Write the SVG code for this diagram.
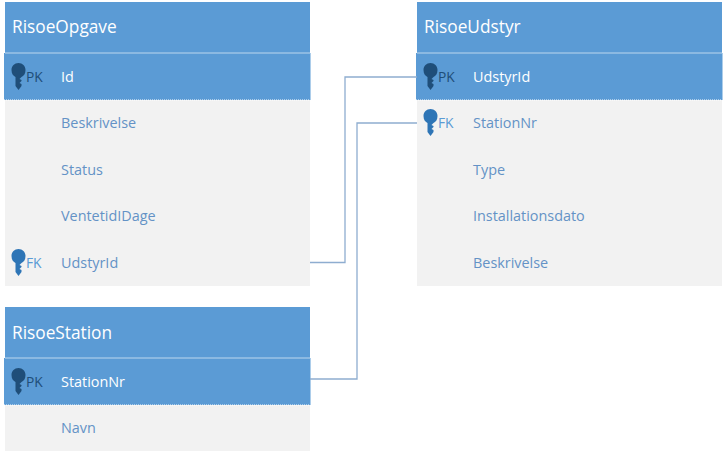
<svg xmlns="http://www.w3.org/2000/svg" width="724" height="453" viewBox="0 0 724 453">
<style>
text{font-family:"Open Sans","Noto Sans","Liberation Sans",sans-serif}
.hd{fill:#5b9bd5}.bd{fill:#f2f2f2}
.t{font-size:17.300px;fill:#fff}
.w{font-size:14.400px;fill:#fff}
.f{font-size:14.400px;fill:#6492c6}
.pk{font-size:13.800px;fill:#1f4e79}
.fk{font-size:13.800px;fill:#5b9bd5}
.sep{stroke:#bdd7ee;stroke-width:1;fill:none}
.dash{stroke:#fff;stroke-width:1;stroke-dasharray:1 1;fill:none}
.c{stroke:#8eadd0;stroke-width:1.300;fill:none}
</style>
<defs>
<g id="key"><path d="M0-14C-4-14-7-11-7-7C-7-3-5-1-3 0V9L0 13L3 9V7L1 6L3 4V3L1 2L3 0C5-1 7-3 7-7C7-11 4-14 0-14Z"/></g>
</defs>
<g id="RisoeOpgave">
<rect class="bd" x="5" y="100" width="305" height="186"/>
<rect class="hd" x="5" y="2" width="305" height="51"/>
<rect class="hd" x="4" y="53" width="306.500" height="47"/>
<path class="sep" d="M5 53H310"/><path class="dash" d="M4 100H310"/>
<text class="t" x="12" y="33">RisoeOpgave</text>
<use href="#key" x="18.500" y="77" fill="#1f4e79"/>
<text class="pk" x="26" y="82">PK</text><text class="w" x="61" y="82">Id</text>
<text class="f" x="61" y="128">Beskrivelse</text>
<text class="f" x="61" y="175">Status</text>
<text class="f" x="61" y="221">VentetidIDage</text>
<use href="#key" x="18.500" y="263" fill="#2e75b6"/>
<text class="fk" x="26" y="268">FK</text><text class="f" x="61" y="268">UdstyrId</text>
</g>
<g id="RisoeStation">
<rect class="bd" x="5" y="405" width="305" height="46"/>
<rect class="hd" x="5" y="307" width="305" height="51"/>
<rect class="hd" x="4" y="358" width="306.500" height="47"/>
<path class="sep" d="M5 358H310"/><path class="dash" d="M4 405H310"/>
<text class="t" x="12" y="339">RisoeStation</text>
<use href="#key" x="18.500" y="382" fill="#1f4e79"/>
<text class="pk" x="26" y="387">PK</text><text class="w" x="61" y="387">StationNr</text>
<text class="f" x="61" y="433">Navn</text>
</g>
<g id="RisoeUdstyr">
<rect class="bd" x="417" y="100" width="305" height="186"/>
<rect class="hd" x="417" y="2" width="305" height="51"/>
<rect class="hd" x="416" y="53" width="306.500" height="47"/>
<path class="sep" d="M417 53H722"/><path class="dash" d="M416 100H722"/>
<text class="t" x="424" y="33">RisoeUdstyr</text>
<use href="#key" x="430.500" y="77" fill="#1f4e79"/>
<text class="pk" x="438" y="82">PK</text><text class="w" x="473" y="82">UdstyrId</text>
<use href="#key" x="430.500" y="123" fill="#2e75b6"/>
<text class="fk" x="438" y="128">FK</text><text class="f" x="473" y="128">StationNr</text>
<text class="f" x="473" y="175">Type</text>
<text class="f" x="473" y="221">Installationsdato</text>
<text class="f" x="473" y="268">Beskrivelse</text>
</g>
<g id="connectors">
<path class="c" d="M310 262.500H345V77H417"/>
<path class="c" d="M310 379H357V123H417"/>
</g>
</svg>
